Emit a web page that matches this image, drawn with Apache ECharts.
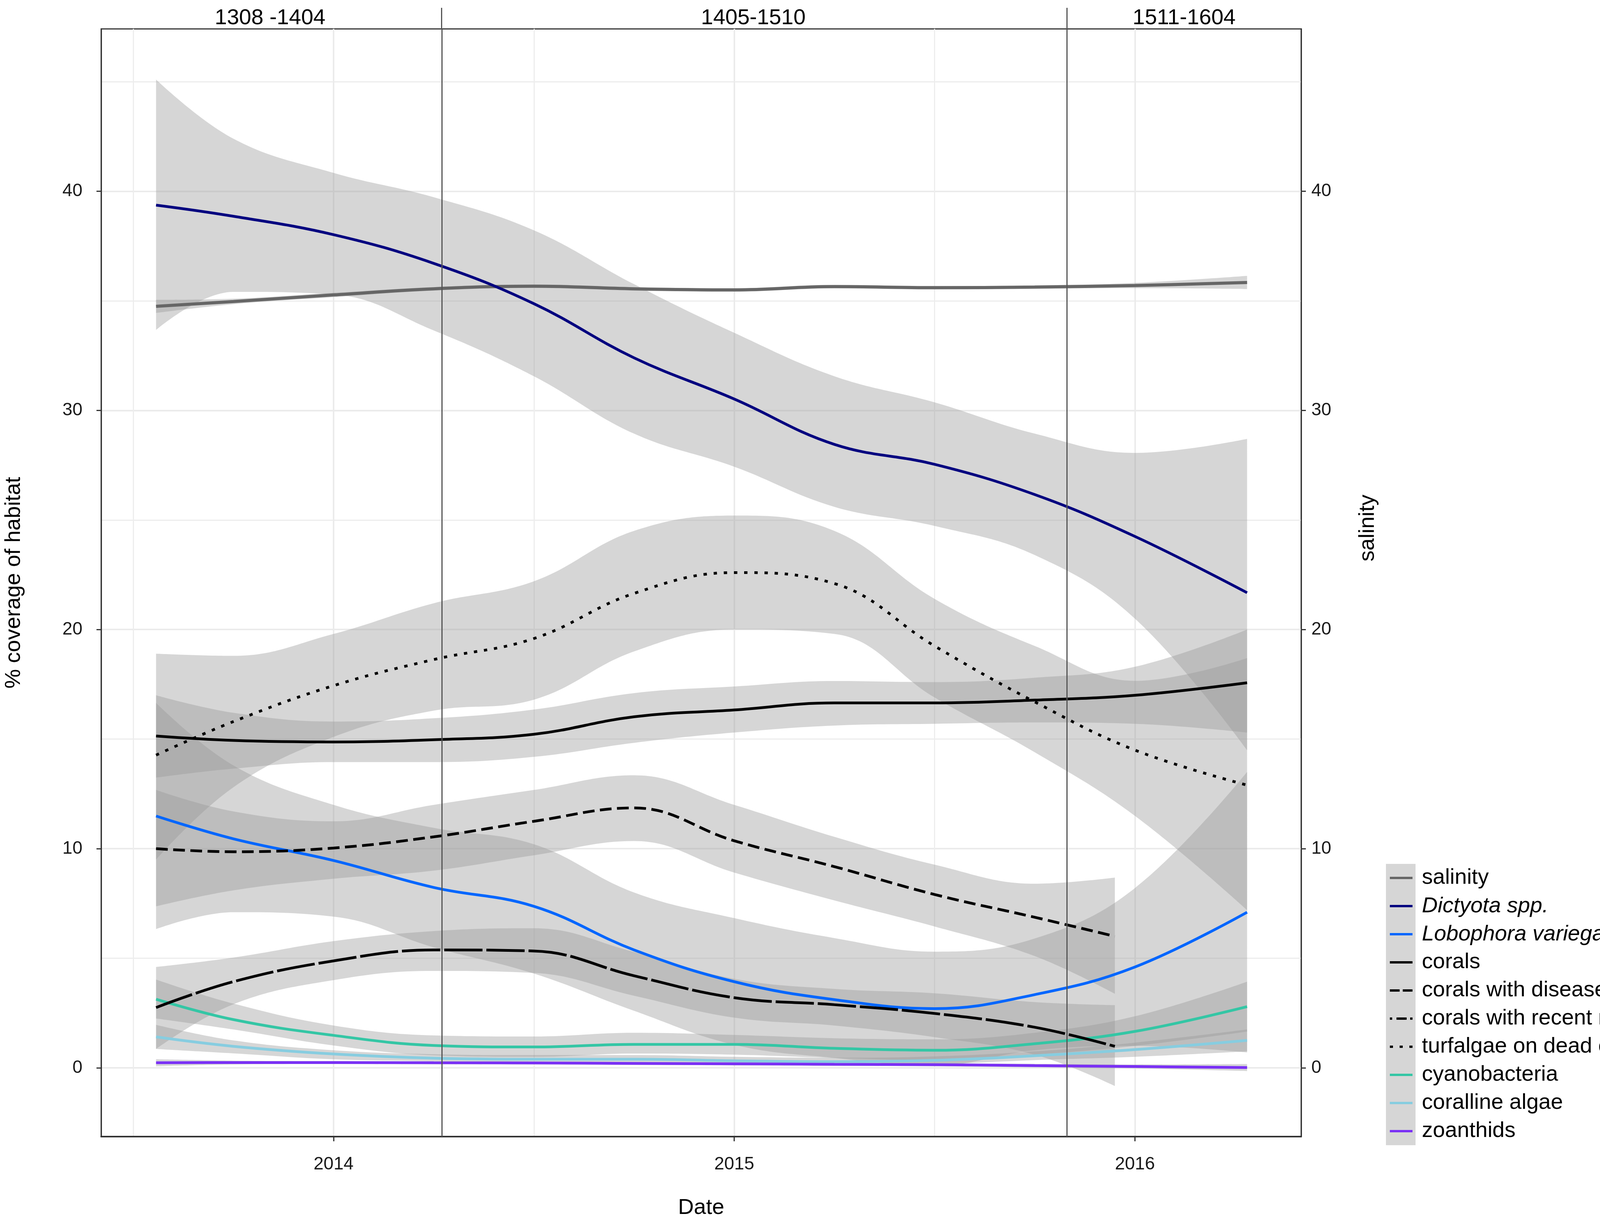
<!DOCTYPE html>
<html>
<head>
<meta charset="utf-8">
<script src="https://cdn.jsdelivr.net/npm/echarts@6/dist/echarts.min.js"></script>
<style>
html, body { margin: 0; padding: 0; background: #fff; }
#chart { width: 4341px; height: 3125px; }
</style>
</head>
<body>
<div id="chart"></div>
<script>
// sampling dates (decimal years) of the smoothed curves
var dates = [2013.557, 2013.75, 2014.0, 2014.25, 2014.5, 2014.75, 2015.0, 2015.25, 2015.5, 2015.75, 2016.0, 2016.28];
var datesShort = [2013.557, 2013.75, 2014.0, 2014.25, 2014.5, 2014.75, 2015.0, 2015.25, 2015.5, 2015.75, 2015.95];

// smoothed means with lower / upper confidence limits
var salinity   = [34.75, 34.97, 35.27, 35.55, 35.67, 35.55, 35.5, 35.65, 35.6, 35.63, 35.7, 35.84];
var salinityLo = [34.45, 34.85, 35.17, 35.47, 35.59, 35.47, 35.42, 35.57, 35.52, 35.55, 35.58, 35.54];
var salinityHi = [35.05, 35.1, 35.37, 35.63, 35.75, 35.63, 35.58, 35.73, 35.68, 35.71, 35.82, 36.14];

var dictyota   = [39.37, 38.86, 38.02, 36.71, 34.87, 32.4, 30.52, 28.45, 27.54, 26.16, 24.25, 21.68];
var dictyotaLo = [33.67, 35.41, 35.29, 33.65, 31.56, 28.94, 27.43, 25.6, 24.73, 23.4, 20.5, 14.5];
var dictyotaHi = [45.1, 42.4, 40.84, 39.73, 38.22, 35.76, 33.54, 31.56, 30.37, 28.94, 28.06, 28.7];

var lobophora   = [11.49, 10.45, 9.46, 8.23, 7.37, 5.38, 3.93, 3.11, 2.7, 3.34, 4.6, 7.1];
var lobophoraLo = [6.33, 7.1, 6.9, 5.5, 4.3, 2.6, 1.05, 0.45, 0.1, 0.8, 1.0, 0.7];
var lobophoraHi = [16.65, 13.8, 12.0, 10.95, 10.2, 8.0, 6.83, 5.92, 5.3, 5.9, 8.2, 13.5];

var corals   = [15.14, 14.94, 14.87, 14.97, 15.22, 16.02, 16.33, 16.65, 16.65, 16.78, 17.0, 17.57];
var coralsLo = [13.24, 13.65, 13.95, 13.95, 14.19, 14.83, 15.3, 15.62, 15.7, 15.76, 15.7, 15.3];
var coralsHi = [17.0, 16.2, 15.8, 15.95, 16.35, 17.1, 17.4, 17.65, 17.6, 17.8, 18.3, 20.0];

var diseases   = [10.0, 9.86, 10.03, 10.54, 11.25, 11.86, 10.36, 9.18, 7.91, 6.87, 6.0];
var diseasesLo = [7.37, 8.1, 8.63, 9.0, 9.7, 10.35, 8.91, 7.64, 6.45, 5.1, 3.38];
var diseasesHi = [12.68, 11.7, 11.25, 12.0, 12.68, 13.35, 12.0, 10.54, 9.27, 8.4, 8.68];

var mortality   = [2.75, 3.93, 4.88, 5.38, 5.33, 4.2, 3.2, 2.88, 2.48, 1.85, 0.98];
var mortalityLo = [0.86, 2.9, 4.0, 4.42, 4.33, 3.29, 2.29, 1.93, 1.4, 0.6, -0.83];
var mortalityHi = [4.6, 5.03, 5.78, 6.24, 6.37, 5.29, 4.06, 3.6, 3.4, 3.0, 2.86];

var turf   = [14.27, 15.8, 17.44, 18.63, 19.59, 21.65, 22.6, 22.1, 19.25, 16.7, 14.5, 12.9];
var turfLo = [9.5, 12.8, 15.1, 16.3, 16.8, 19.0, 20.0, 19.8, 16.9, 14.4, 11.5, 7.2];
var turfHi = [18.9, 18.8, 19.8, 21.2, 22.2, 24.5, 25.2, 24.5, 21.4, 19.25, 17.66, 18.7];

var cyano   = [3.13, 2.2, 1.48, 1.02, 0.95, 1.07, 1.07, 0.89, 0.8, 1.1, 1.66, 2.79];
var cyanoLo = [2.25, 1.75, 1.02, 0.57, 0.5, 0.65, 0.6, 0.45, 0.35, 0.6, 1.0, 1.65];
var cyanoHi = [4.03, 2.93, 1.93, 1.48, 1.43, 1.6, 1.5, 1.35, 1.3, 1.6, 2.35, 3.93];

var coralline   = [1.41, 0.98, 0.63, 0.44, 0.39, 0.39, 0.32, 0.28, 0.34, 0.55, 0.83, 1.25];
var corallineLo = [0.86, 0.66, 0.39, 0.3, 0.2, 0.2, 0.14, 0.1, 0.16, 0.35, 0.5, 0.75];
var corallineHi = [1.96, 1.25, 0.8, 0.62, 0.58, 0.58, 0.5, 0.46, 0.52, 0.75, 1.15, 1.75];

var zoanthids   = [0.23, 0.24, 0.24, 0.23, 0.22, 0.2, 0.18, 0.16, 0.14, 0.1, 0.06, 0.01];
var zoanthidsLo = [0.07, 0.15, 0.17, 0.16, 0.15, 0.13, 0.11, 0.09, 0.07, 0.02, -0.03, -0.15];
var zoanthidsHi = [0.39, 0.33, 0.31, 0.3, 0.29, 0.27, 0.25, 0.23, 0.21, 0.18, 0.15, 0.17];

// axes, grid and sampling periods
var xMin = 2013.42, xMax = 2016.415;
var yMin = -3.14, yMax = 47.41;
var xTicks = [2014, 2015, 2016];
var xMinor = [2013.5, 2014.5, 2015.5];
var yTicks = [0, 10, 20, 30, 40];
var yMinor = [5, 15, 25, 35, 45];
var periodBreaks = [2014.265, 2015.831];
var periods = ['1308 -1404', '1405-1510', '1511-1604'];

var legendNames = ['salinity', 'Dictyota spp.', 'Lobophora variegata', 'corals', 'corals with diseases',
  'corals with recent mortality', 'turfalgae on dead corals', 'cyanobacteria', 'coralline algae', 'zoanthids'];
var italicNames = ['Dictyota spp.', 'Lobophora variegata'];

var FONT = 'Liberation Sans, Arial, sans-serif';
var SMOOTH = 0.4;

function pairs(xs, ys) {
  return ys.map(function (y, i) { return [xs[i], y]; });
}

// value first so that the stack is made on y (x is given through encode)
function pairsYX(xs, ys) {
  return ys.map(function (y, i) { return [y, xs[i]]; });
}

// confidence ribbon: invisible lower line plus stacked width filled in grey
function band(key, xs, lo, hi, yAxisIndex) {
  var width = hi.map(function (h, i) { return +(h - lo[i]).toFixed(3); });
  var common = {
    type: 'line', stack: key, stackStrategy: 'all', yAxisIndex: yAxisIndex || 0,
    encode: { x: 1, y: 0 },
    smooth: SMOOTH, symbol: 'none', silent: true, lineStyle: { width: 0, opacity: 0 }
  };
  return [
    Object.assign({ name: key + '_lo', data: pairsYX(xs, lo) }, common),
    Object.assign({ name: key + '_band', data: pairsYX(xs, width),
      areaStyle: { color: 'rgb(153,153,153)', opacity: 0.4 } }, common)
  ];
}

function curve(name, xs, ys, color, type, width, yAxisIndex) {
  return {
    type: 'line', name: name, data: pairs(xs, ys), yAxisIndex: yAxisIndex || 0,
    smooth: SMOOTH, symbol: 'none', silent: true,
    lineStyle: { color: color, width: width || 7, type: type || 'solid', cap: 'butt' },
    itemStyle: { color: color }
  };
}

var series = [];

// grid lines
series.push({
  type: 'line', name: 'gridlines', data: [], silent: true, z: 0,
  markLine: {
    silent: true, symbol: ['none', 'none'], z: 0, animation: false, label: { show: false },
    data: []
      .concat(yTicks.map(function (v) { return { yAxis: v, lineStyle: { color: '#ebebeb', width: 4, type: 'solid' } }; }))
      .concat(yMinor.map(function (v) { return { yAxis: v, lineStyle: { color: '#ededed', width: 3, type: 'solid' } }; }))
      .concat(xTicks.map(function (v) { return { xAxis: v, lineStyle: { color: '#ebebeb', width: 4, type: 'solid' } }; }))
      .concat(xMinor.map(function (v) { return { xAxis: v, lineStyle: { color: '#ededed', width: 3, type: 'solid' } }; }))
  }
});

// layers in drawing order (ribbon then line)
series = series.concat(band('salinity', dates, salinityLo, salinityHi, 1));
series.push(curve('salinity', dates, salinity, '#666666', 'solid', 8, 1));
series = series.concat(band('corals', dates, coralsLo, coralsHi));
series.push(curve('corals', dates, corals, '#000000'));
series = series.concat(band('turf', dates, turfLo, turfHi));
series.push(curve('turfalgae on dead corals', dates, turf, '#000000', [8.5, 17.5]));
series = series.concat(band('cyano', dates, cyanoLo, cyanoHi));
series.push(curve('cyanobacteria', dates, cyano, '#34c6a5'));
series = series.concat(band('coralline', dates, corallineLo, corallineHi));
series.push(curve('coralline algae', dates, coralline, '#87cde0'));
series = series.concat(band('zoanthids', dates, zoanthidsLo, zoanthidsHi));
series.push(curve('zoanthids', dates, zoanthids, '#7a30f5'));
series = series.concat(band('dictyota', dates, dictyotaLo, dictyotaHi));
series.push(curve('Dictyota spp.', dates, dictyota, '#00007f'));
series = series.concat(band('lobophora', dates, lobophoraLo, lobophoraHi));
series.push(curve('Lobophora variegata', dates, lobophora, '#0066ff'));
series = series.concat(band('diseases', datesShort, diseasesLo, diseasesHi));
series.push(curve('corals with diseases', datesShort, diseases, '#000000', [30, 14]));
series = series.concat(band('mortality', datesShort, mortalityLo, mortalityHi));
series.push(curve('corals with recent mortality', datesShort, mortality, '#000000', [98, 10]));

// period boundaries in the plot
series.push({
  type: 'line', name: 'breaks', data: [], silent: true, z: 10,
  markLine: {
    silent: true, symbol: ['none', 'none'], z: 10, animation: false, label: { show: false },
    lineStyle: { color: '#555555', width: 3, type: 'solid' },
    data: periodBreaks.map(function (v) { return { xAxis: v }; })
  }
});

// strip above the panel: boundary extensions and period labels
var bounds = [xMin].concat(periodBreaks).concat([xMax]);
series.push({
  type: 'line', name: 'periods', data: [], xAxisIndex: 1, yAxisIndex: 2, silent: true, z: 10,
  markLine: {
    silent: true, symbol: ['none', 'none'], z: 10, animation: false, label: { show: false },
    lineStyle: { color: '#555555', width: 3, type: 'solid' },
    data: periodBreaks.map(function (v) { return { xAxis: v }; })
  },
  markArea: {
    silent: true, itemStyle: { color: 'rgba(0,0,0,0)' },
    label: { show: true, position: 'inside', fontSize: 56, fontFamily: FONT, color: '#000' },
    data: periods.map(function (p, i) { return [{ name: p, xAxis: bounds[i] }, { xAxis: bounds[i + 1] }]; })
  }
});

var legendKeyData = legendNames.map(function (n) {
  var item = { name: n };
  if (n === 'corals with recent mortality') item.lineStyle = { type: [6, 11, 26, 9] };
  if (n === 'corals with diseases') item.lineStyle = { type: [25, 8] };
  if (n === 'turfalgae on dead corals') item.lineStyle = { type: [8, 17] };
  return item;
});

var axisText = { fontSize: 46, fontFamily: FONT, color: '#1a1a1a' };
var titleText = { fontSize: 56, fontFamily: FONT, color: '#000' };
var axisLineStyle = { show: true, onZero: false, lineStyle: { color: '#333333', width: 3 } };

var option = {
  animation: false,
  backgroundColor: '#ffffff',
  grid: [
    { left: 258, top: 74, width: 3073, height: 2844, show: true, borderColor: '#333333', borderWidth: 3, backgroundColor: 'rgba(0,0,0,0)' },
    { left: 258, top: 20, width: 3073, height: 54, show: false }
  ],
  xAxis: [
    {
      type: 'value', gridIndex: 0, min: xMin, max: xMax,
      name: 'Date', nameLocation: 'middle', nameGap: 155, nameTextStyle: titleText,
      axisLine: { show: true, onZero: false, lineStyle: { color: '#333333', width: 4 } },
      axisTick: { show: true, length: 12, lineStyle: { color: '#333333', width: 3 }, customValues: xTicks },
      axisLabel: Object.assign({ margin: 48, customValues: xTicks, formatter: function (v) { return String(Math.round(v)); } }, axisText),
      splitLine: { show: false }
    },
    { type: 'value', gridIndex: 1, min: xMin, max: xMax, show: false }
  ],
  yAxis: [
    {
      type: 'value', gridIndex: 0, position: 'left', min: yMin, max: yMax,
      name: '% coverage of habitat', nameLocation: 'middle', nameGap: 195, nameRotate: 90, nameTextStyle: titleText,
      axisLine: axisLineStyle,
      axisTick: { show: true, length: 12, lineStyle: { color: '#333333', width: 3 }, customValues: yTicks },
      axisLabel: Object.assign({ margin: 48, customValues: yTicks }, axisText),
      splitLine: { show: false }
    },
    {
      type: 'value', gridIndex: 0, position: 'right', min: yMin, max: yMax,
      name: 'salinity', nameLocation: 'middle', nameGap: 143, nameRotate: 90,
      nameTextStyle: Object.assign({ padding: [0, 0, 0, 280] }, titleText),
      axisLine: axisLineStyle,
      axisTick: { show: true, length: 12, lineStyle: { color: '#333333', width: 3 }, customValues: yTicks },
      axisLabel: Object.assign({ margin: 26, customValues: yTicks }, axisText),
      splitLine: { show: false }
    },
    { type: 'value', gridIndex: 1, min: 0, max: 1, show: false }
  ],
  legend: [
    {
      // keys on the grey ribbon-coloured column
      orient: 'vertical', left: 3548, top: 2211, padding: [0, 0, 0, 7], itemGap: 0,
      itemWidth: 58, itemHeight: 72, selectedMode: false, backgroundColor: '#d6d6d6',
      lineStyle: { width: 6 },
      itemStyle: { color: 'rgba(0,0,0,0)', borderWidth: 0, opacity: 0 },
      data: legendKeyData,
      formatter: function () { return ' '; },
      textStyle: { fontSize: 10, lineHeight: 72 }
    },
    {
      orient: 'vertical', left: 3634, top: 2211, padding: 0, itemGap: 0,
      itemWidth: 1, itemHeight: 72, selectedMode: false, icon: 'rect',
      itemStyle: { color: 'rgba(0,0,0,0)', borderWidth: 0 },
      data: legendNames,
      formatter: function (n) { return italicNames.indexOf(n) >= 0 ? '{i|' + n + '}' : n; },
      textStyle: {
        fontSize: 56, fontFamily: FONT, color: '#000',
        rich: { i: { fontSize: 56, fontFamily: FONT, fontStyle: 'italic', color: '#000' } }
      }
    }
  ],
  series: series
};

var chart = echarts.init(document.getElementById('chart'), null, { renderer: 'canvas' });
chart.setOption(option);
</script>
</body>
</html>
